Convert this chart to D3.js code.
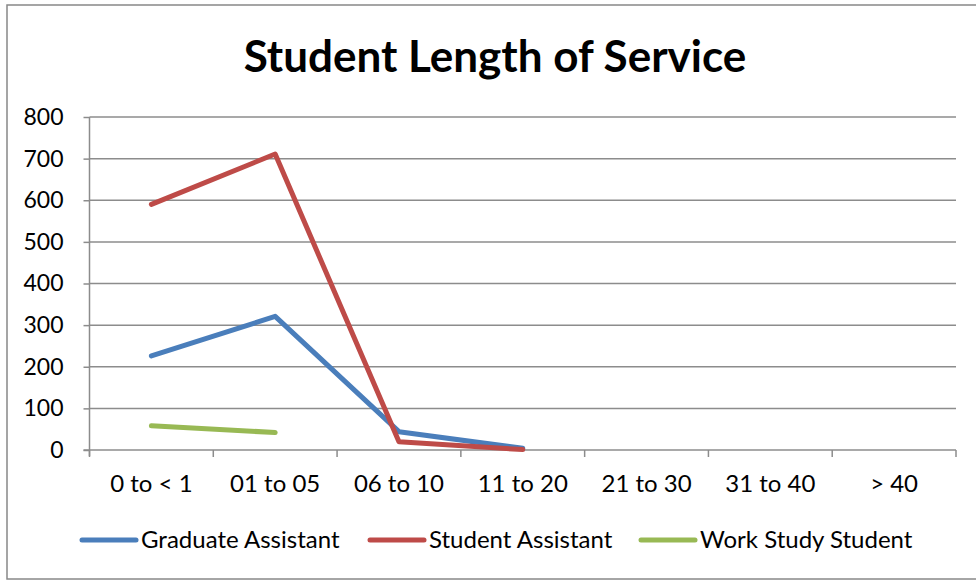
<!DOCTYPE html>
<html>
<head>
<meta charset="utf-8">
<script src="https://cdn.jsdelivr.net/npm/d3@7"></script>
<style>
  body { margin: 0; background: #fff; }
  svg { display: block; font-family: Lato, "Open Sans", sans-serif; }
</style>
</head>
<body>
<div id="chart"></div>
<script>
var categories = ["0 to < 1", "01 to 05", "06 to 10", "11 to 20", "21 to 30", "31 to 40", "> 40"];
var yTicks = [0, 100, 200, 300, 400, 500, 600, 700, 800];

var gradAssistant = [226, 321, 44, 4];
var studentAssistant = [590, 711, 20, 1];
var workStudy = [58, 42];

var series = [
  {name: "Graduate Assistant", color: "#4A7EBB", values: gradAssistant},
  {name: "Student Assistant", color: "#BE4B48", values: studentAssistant},
  {name: "Work Study Student", color: "#98B954", values: workStudy}
];

var width = 976, height = 580;
var margin = {left: 89.5, right: 20, top: 117, bottom: 130};

var svg = d3.select("#chart").append("svg")
  .attr("width", width)
  .attr("height", height);

// outer border
svg.append("rect")
  .attr("x", 7).attr("y", 5)
  .attr("width", 985).attr("height", 574)
  .attr("fill", "none")
  .attr("stroke", "#888")
  .attr("stroke-width", 1.5);

var x = d3.scaleBand()
  .domain(categories)
  .range([margin.left, 956])
  .padding(0);

var y = d3.scaleLinear()
  .domain([0, 800])
  .range([450, 117]);

// gridlines
svg.append("g")
  .selectAll("line")
  .data(yTicks.filter(function(d){ return d > 0; }))
  .enter().append("line")
    .attr("x1", margin.left).attr("x2", 956)
    .attr("y1", function(d){ return y(d); })
    .attr("y2", function(d){ return y(d); })
    .attr("stroke", "#8c8c8c")
    .attr("stroke-width", 1.5);

// y axis
var yAxis = svg.append("g")
  .attr("transform", "translate(" + margin.left + ",0)")
  .call(d3.axisLeft(y).tickValues(yTicks).tickSize(6).tickPadding(20));
yAxis.selectAll("line").attr("stroke", "#8c8c8c").attr("stroke-width", 1.5);
yAxis.select(".domain").attr("stroke", "#8c8c8c").attr("stroke-width", 1.5)
  .attr("d", "M0," + y(800) + "V" + (y(0) + 6));
yAxis.selectAll("text")
  .attr("font-size", 23)
  .attr("fill", "#000")
  .attr("font-family", "Lato, sans-serif");

// x axis
var bounds = d3.range(categories.length + 1).map(function(i){ return margin.left + i * x.bandwidth(); });
var xAxis = svg.append("g");
xAxis.append("line")
  .attr("x1", margin.left - 6).attr("x2", 956)
  .attr("y1", y(0)).attr("y2", y(0))
  .attr("stroke", "#8c8c8c").attr("stroke-width", 1.5);
xAxis.selectAll(".xtick")
  .data(bounds)
  .enter().append("line")
    .attr("class", "xtick")
    .attr("x1", function(d){ return d; }).attr("x2", function(d){ return d; })
    .attr("y1", y(0)).attr("y2", y(0) + 7)
    .attr("stroke", "#8c8c8c").attr("stroke-width", 1.5);
xAxis.selectAll(".xlabel")
  .data(categories)
  .enter().append("text")
    .attr("class", "xlabel")
    .attr("x", function(d){ return x(d) + x.bandwidth() / 2; })
    .attr("y", 492)
    .attr("text-anchor", "middle")
    .attr("font-size", 24)
    .text(function(d){ return d; });

// lines
var line = d3.line()
  .x(function(d, i){ return x(categories[i]) + x.bandwidth() / 2; })
  .y(function(d){ return y(d); });

svg.append("g")
  .selectAll("path")
  .data(series)
  .enter().append("path")
    .attr("d", function(d){ return line(d.values); })
    .attr("fill", "none")
    .attr("stroke", function(d){ return d.color; })
    .attr("stroke-width", 5)
    .attr("stroke-linecap", "round")
    .attr("stroke-linejoin", "round");

// title
svg.append("text")
  .attr("x", 495)
  .attr("y", 72)
  .attr("text-anchor", "middle")
  .attr("font-size", 44)
  .attr("font-weight", "bold")
  .text("Student Length of Service");

// legend
var legendX = [82, 370, 641];
var legend = svg.append("g")
  .selectAll("g")
  .data(series)
  .enter().append("g")
    .attr("transform", function(d, i){ return "translate(" + legendX[i] + ",540)"; });
legend.append("line")
  .attr("x1", 0).attr("x2", 54)
  .attr("stroke", function(d){ return d.color; })
  .attr("stroke-width", 5)
  .attr("stroke-linecap", "round");
legend.append("text")
  .attr("x", 59)
  .attr("y", 8)
  .attr("font-size", 24)
  .text(function(d){ return d.name; });
</script>
</body>
</html>
